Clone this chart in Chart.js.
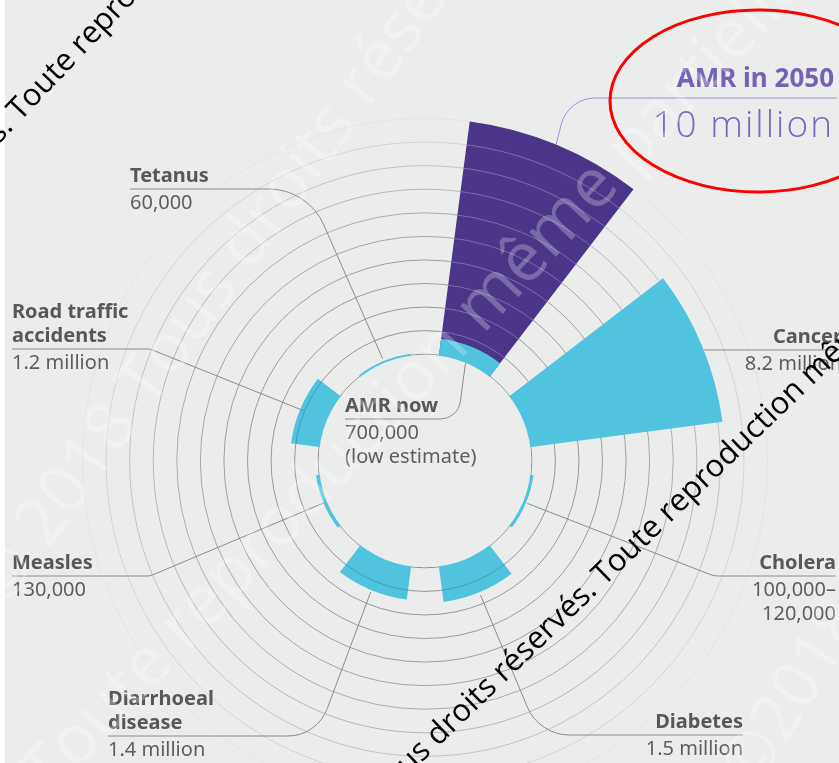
<!DOCTYPE html>
<html><head><meta charset="utf-8">
<script src="https://cdn.jsdelivr.net/npm/chart.js@4.4.1/dist/chart.umd.min.js"></script>
<style>
html,body{margin:0;padding:0;width:839px;height:763px;overflow:hidden;background:#fff;}
#bg{position:absolute;left:5px;top:0;width:834px;height:763px;background:#ebecec;}
#chart{position:absolute;left:0;top:0;}
#ov{position:absolute;left:0;top:0;pointer-events:none;}
</style></head><body>
<div id="bg"></div>
<canvas id="chart" width="850" height="922"></canvas>
<svg id="ov" width="839" height="763" xmlns="http://www.w3.org/2000/svg"></svg>
<script>
// ---------------- data ----------------
const categories = ['AMR in 2050','Cancer','Cholera','Diabetes','Diarrhoeal disease','Measles','Road traffic accidents','Tetanus'];
const nameLines = [['AMR in 2050'],['Cancer'],['Cholera'],['Diabetes'],['Diarrhoeal','disease'],['Measles'],['Road traffic','accidents'],['Tetanus']];
const deathsMillions = [10, 8.2, 0.11, 1.5, 1.4, 0.13, 1.2, 0.06];
const valueLines = [['10 million'],['8.2 million'],['100,000–','120,000'],['1.5 million'],['1.4 million'],['130,000'],['1.2 million'],['60,000']];
const amrNowMillions = 0.7;
const amrNowName = ['AMR now'];
const amrNowValue = ['700,000','(low estimate)'];
const ringValues = [0,1,2,3,4,5,6,7,8,9,10];

// ---------------- style / layout ----------------
const BG='#ebecec', CYAN='#50c4de', PURPLE='#4a3589', CLEAR='rgba(0,0,0,0)';
const RING_COLORS=['#8e8e8e','#959595','#999999','#9c9c9c','#a0a0a0','#a6a6a6','#adadad','#b6b6b6','#c2c2c2','#d3d3d3','#e3e4e4'];
const HOLE = 4.53;          // radius of the central hole, in value units
const SCALE_MAX = 13.5;
const BAR_ANGLE = 30, GAP_ANGLE = 15;

const labels=[], mainData=[], nowData=[], mainBg=[], nowBg=[], angles=[];
categories.forEach((c,i)=>{
  labels.push(c,'');
  mainData.push(deathsMillions[i], null);
  nowData.push(i===0?amrNowMillions:null, null);
  mainBg.push(i===0?PURPLE:CYAN, CLEAR);
  nowBg.push(CYAN, CLEAR);
  angles.push(BAR_ANGLE, GAP_ANGLE);
});

// label layout (page px)
const LAYOUT = [
 {x:834, anchor:'end',   lx:837, uy:98,  vx:568, r:35, dr:0, color:'#a093cf'},
 {x:842, anchor:'end',   lx:839, uy:350, mode:'h', dr:0},
 {x:836, anchor:'end',   lx:836, uy:576, vx:714, r:22, dr:1.4},
 {x:743, anchor:'end',   lx:743, uy:735, vx:539, r:46, dr:3},
 {x:108, anchor:'start', lx:108, uy:736, vx:317, r:42, dr:2},
 {x:12,  anchor:'start', lx:12,  uy:576, vx:150, r:14, dr:-1.5},
 {x:12,  anchor:'start', lx:12,  uy:349, vx:150, r:14, dr:-4},
 {x:130, anchor:'start', lx:130, uy:189, vx:308, r:60, dr:2.6}
];
const NOW_LAYOUT = {x:345, anchor:'start', lx:345, uy:419, vx:458, r:20, dr:-1};

function leaderPath(ctx, s, L, value, midAngle){
  const rr = s.getDistanceFromCenterForValue(value) + L.dr;
  ctx.strokeStyle = L.color || '#8c8c8c';
  ctx.beginPath();
  if (L.mode==='h'){
    const dy = L.uy - s.yCenter;
    const ex = s.xCenter + Math.sqrt(rr*rr - dy*dy);
    ctx.moveTo(L.lx, L.uy); ctx.lineTo(ex, L.uy);
  } else {
    const ax = s.xCenter + Math.cos(midAngle)*rr, ay = s.yCenter + Math.sin(midAngle)*rr;
    ctx.moveTo(L.lx, L.uy);
    ctx.arcTo(L.vx, L.uy, ax, ay, L.r);
    ctx.lineTo(ax, ay);
  }
  ctx.stroke();
}

function clipToArc(ctx, arc){
  ctx.beginPath();
  ctx.moveTo(arc.x, arc.y);
  ctx.arc(arc.x, arc.y, arc.outerRadius, arc.startAngle, arc.endAngle);
  ctx.closePath();
  ctx.clip();
}

const overlayPlugin = {
  id:'overlay',
  afterDatasetsDraw(chart){
    const s = chart.scales.r, ctx = chart.ctx;
    const zeroR = s.getDistanceFromCenterForValue(0);
    const meta = chart.getDatasetMeta(1);
    [3,4,6].forEach(i=>{
      ctx.save(); clipToArc(ctx, meta.data[i*2]);
      ctx.strokeStyle='rgba(40,80,100,0.35)'; ctx.lineWidth=1;
      ringValues.forEach(v=>{ if(v>0 && v<deathsMillions[i]){ ctx.beginPath(); ctx.arc(s.xCenter,s.yCenter,s.getDistanceFromCenterForValue(v),0,Math.PI*2); ctx.stroke(); }});
      ctx.restore();
    });
    ctx.save();
    ctx.fillStyle = BG;
    ctx.beginPath(); ctx.arc(s.xCenter, s.yCenter, zeroR-0.5, 0, Math.PI*2); ctx.fill();
    clipToArc(ctx, meta.data[0]);
    ctx.strokeStyle='rgba(255,255,255,0.28)'; ctx.lineWidth=1;
    ringValues.forEach(v=>{ if(v>0 && v<deathsMillions[0]){ ctx.beginPath(); ctx.arc(s.xCenter,s.yCenter,s.getDistanceFromCenterForValue(v),0,Math.PI*2); ctx.stroke(); }});
    ctx.restore();
  },
  afterDraw(chart){
    const s = chart.scales.r, ctx = chart.ctx;
    const meta = chart.getDatasetMeta(1);
    ctx.save(); ctx.lineWidth=1;
    LAYOUT.forEach((L,i)=>{
      const a = meta.data[i*2];
      leaderPath(ctx, s, L, deathsMillions[i], (a.startAngle+a.endAngle)/2);
    });
    const a0 = meta.data[0];
    leaderPath(ctx, s, NOW_LAYOUT, 0, (a0.startAngle+a0.endAngle)/2);
    ctx.restore();
  }
};

new Chart(document.getElementById('chart'), {
  type:'polarArea',
  data:{ labels, datasets:[
    {label:'AMR now', data: nowData, backgroundColor: nowBg, borderWidth:0, angle: angles},
    {label:'Deaths per year', data: mainData, backgroundColor: mainBg, borderWidth:0, angle: angles}
  ]},
  options:{
    responsive:false, animation:false, events:[],
    layout:{padding:0},
    plugins:{legend:{display:false}, tooltip:{enabled:false}},
    scales:{ r:{
      min:-HOLE, max:SCALE_MAX, startAngle: GAP_ANGLE/2,
      ticks:{display:false, stepSize:1},
      angleLines:{display:false}, pointLabels:{display:false},
      grid:{circular:true, lineWidth:1, color:(c)=>{const v=c.tick&&c.tick.value; const k=ringValues.indexOf(v); return k>=0?RING_COLORS[k]:CLEAR;}}
    }}
  },
  plugins:[overlayPlugin]
});

// ---------------- SVG text overlay ----------------
const NS='http://www.w3.org/2000/svg';
const svg=document.getElementById('ov');
function txt(str,x,y,attrs){const t=document.createElementNS(NS,'text');t.setAttribute('x',x);t.setAttribute('y',y);for(const k in attrs)t.setAttribute(k,attrs[k]);t.textContent=str;svg.appendChild(t);return t;}
const FONT='Noto Sans, sans-serif';
function drawLabel(L, names, values, opt){
  opt=opt||{};
  names.forEach((s,j)=>txt(s,L.x,L.uy-(opt.nameGap||7)-24*(names.length-1-j),{'font-family':FONT,'font-size':opt.nameSize||20,'font-weight':700,fill:opt.nameColor||'#58585a','text-anchor':L.anchor}));
  values.forEach((s,j)=>txt(s,L.x,L.uy+(opt.valGap||20)+24*j,{'font-family':opt.valFont||FONT,'font-size':opt.valSize||20,'font-weight':opt.valWeight||400,fill:opt.valColor||'#5e5e60','text-anchor':L.anchor,'letter-spacing':opt.valSpacing||0}));
}
LAYOUT.forEach((L,i)=>{
  if(i===0) drawLabel(L,nameLines[i],valueLines[i],{nameSize:26,nameGap:11,nameColor:'#7761b6',valSize:37,valGap:39,valWeight:300,valFont:'Open Sans, sans-serif',valColor:'#7b68bb',valSpacing:2});
  else drawLabel(L,nameLines[i],valueLines[i]);
});
drawLabel(NOW_LAYOUT, amrNowName, amrNowValue);

// watermarks
function wm(pre,post,x,y,ang,size,fill){
  const g=document.createElementNS(NS,'g');
  g.setAttribute('transform',`rotate(${ang} ${x} ${y})`);
  svg.appendChild(g);
  [[pre,'end'],[post,'start']].forEach(([s,a])=>{const t=document.createElementNS(NS,'text');t.setAttribute('x',x);t.setAttribute('y',y);t.setAttribute('font-family','Open Sans, sans-serif');t.setAttribute('font-size',size);t.setAttribute('fill',fill);t.setAttribute('text-anchor',a);t.textContent=s;g.appendChild(t);});
}
const SP='\u00a0';
wm('© 2018'+SP,'Tous droits réservés. Toute reproduction',150,410,-54,68,'rgba(255,255,255,0.28)');
wm('Toute reproduction'+SP,'même partielle interdite',483,335,-47,68,'rgba(255,255,255,0.26)');
wm('©','2018 Tous droits',785,745,-58,66,'rgba(255,255,255,0.26)');
wm('Tous droits réservés.'+SP,'Toute reproduction même partielle',20,122,-46.5,31,'#000');
wm('Tous'+SP,'droits réservés. Toute reproduction même partielle',438,747,-44,31,'#000');

// red annotation ellipse
const el=document.createElementNS(NS,'ellipse');
el.setAttribute('cx',758);el.setAttribute('cy',101);el.setAttribute('rx',148);el.setAttribute('ry',91);
el.setAttribute('fill','none');el.setAttribute('stroke','#ff0000');el.setAttribute('stroke-width',3);
svg.appendChild(el);
</script>
</body></html>
